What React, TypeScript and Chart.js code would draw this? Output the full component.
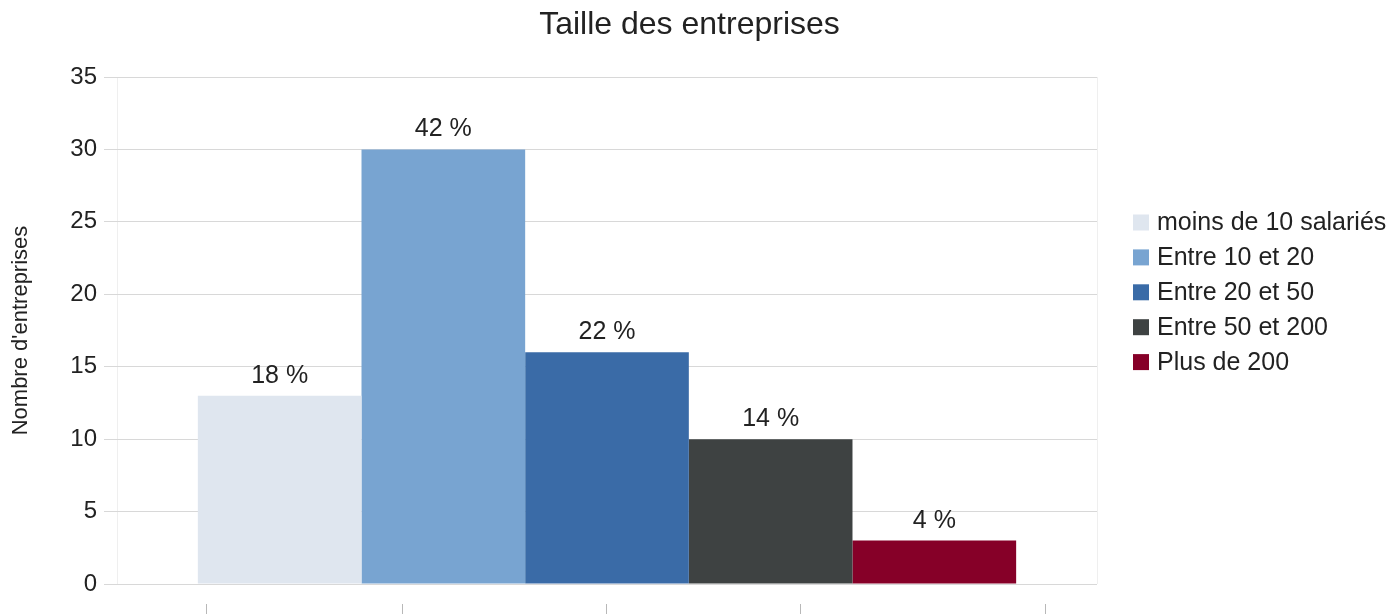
import React, { useEffect, useRef } from "react";
import { Chart, registerables } from "chart.js";

Chart.register(...registerables);

const chartTitle = "Taille des entreprises";
const yAxisTitle = "Nombre d'entreprises";
const category = [""];
const seriesNames = [
  "moins de 10 salariés",
  "Entre 10 et 20",
  "Entre 20 et 50",
  "Entre 50 et 200",
  "Plus de 200",
];
const seriesValues = [13, 30, 16, 10, 3];
const percentLabels = ["18 %", "42 %", "22 %", "14 %", "4 %"];
const seriesColors = ["#dfe6ef", "#78a4d1", "#3a6ba7", "#3e4242", "#860028"];
const yTicks = { min: 0, max: 35, step: 5 };
const bottomTickFractions = [0.091, 0.291, 0.499, 0.697, 0.947];

const FONT = "'Liberation Sans', Arial, sans-serif";
const TEXT = "#222222";

const dataLabelPlugin = {
  id: "dataLabels",
  afterDatasetsDraw(chart: any) {
    const ctx = chart.ctx;
    ctx.save();
    ctx.font = `25px ${FONT}`;
    ctx.fillStyle = TEXT;
    ctx.textAlign = "center";
    ctx.textBaseline = "alphabetic";
    chart.data.datasets.forEach((ds: any, i: number) => {
      const meta = chart.getDatasetMeta(i);
      meta.data.forEach((bar: any) => {
        ctx.fillText(percentLabels[i], bar.x, bar.y - 13);
      });
    });
    ctx.restore();
  },
};

const legendPlugin = {
  id: "sideLegend",
  afterDraw(chart: any) {
    const ctx = chart.ctx;
    const area = chart.chartArea;
    ctx.save();
    ctx.font = `25px ${FONT}`;
    ctx.textBaseline = "middle";
    ctx.textAlign = "left";
    seriesNames.forEach((name, i) => {
      const cy = area.top + 145.5 + i * 34.9;
      ctx.fillStyle = seriesColors[i];
      ctx.fillRect(area.right + 36, cy - 8, 16, 16);
      ctx.fillStyle = TEXT;
      ctx.fillText(name, area.right + 60, cy + 1);
    });
    ctx.restore();
  },
};

export default function App() {
  const ref = useRef<HTMLCanvasElement | null>(null);
  useEffect(() => {
    document.body.style.margin = "0";
    const canvas = ref.current;
    if (!canvas) return;
    const chart = new Chart(canvas, {
      type: "bar",
      data: {
        labels: category,
        datasets: seriesNames.map((name, i) => ({
          label: name,
          data: [seriesValues[i]],
          backgroundColor: seriesColors[i],
          borderWidth: 0,
          categoryPercentage: 0.835,
          barPercentage: 1,
        })),
      },
      options: {
        animation: false,
        responsive: false,
        devicePixelRatio: 1,
        layout: { padding: { top: 0, right: 10, bottom: 2, left: 0 } },
        plugins: {
          legend: { display: false },
          tooltip: { enabled: false },
          title: {
            display: true,
            text: chartTitle,
            color: TEXT,
            font: { family: FONT, size: 32, weight: "normal" },
            padding: { top: 6, bottom: 32.6 },
          },
        },
        scales: {
          x: {
            position: "bottom",
            offset: true,
            ticks: { display: false },
            grid: {
              color: "#efefef",
              offset: true,
              drawTicks: true,
              tickLength: 20,
              tickColor: "rgba(0,0,0,0)",
            },
            border: { display: false },
          },
          x2: {
            type: "linear",
            position: "bottom",
            offset: false,
            min: 0,
            max: 1,
            ticks: { display: false },
            afterBuildTicks(scale: any) {
              scale.ticks = bottomTickFractions.map((v) => ({ value: v }));
            },
            grid: {
              offset: false,
              drawOnChartArea: false,
              drawTicks: true,
              tickLength: 10,
              tickColor: "#b8b8b8",
            },
            border: { display: false },
          },
          y: {
            min: yTicks.min,
            max: yTicks.max,
            ticks: {
              stepSize: yTicks.step,
              color: TEXT,
              padding: 7,
              font: { family: FONT, size: 24 },
            },
            grid: {
              color: "#d8d8d8",
              tickLength: 13,
              tickColor: "#d8d8d8",
            },
            border: { display: false },
            title: {
              display: true,
              text: yAxisTitle,
              color: TEXT,
              font: { family: FONT, size: 22 },
              padding: { top: 8, bottom: 0 },
            },
            afterFit(scale: any) {
              scale.width = 117;
            },
          },
          legendSpace: {
            type: "linear",
            position: "right",
            display: true,
            min: 0,
            max: 1,
            ticks: { display: false },
            grid: { display: false, drawTicks: false },
            border: { display: false },
            afterFit(scale: any) {
              scale.width = 282;
            },
          },
        },
      },
      plugins: [dataLabelPlugin, legendPlugin],
    } as any);
    return () => chart.destroy();
  }, []);
  return (
    <div style={{ width: 1389, height: 616, background: "#ffffff" }}>
      <canvas ref={ref} width={1389} height={616} style={{ display: "block", width: 1389, height: 616 }} />
    </div>
  );
}
